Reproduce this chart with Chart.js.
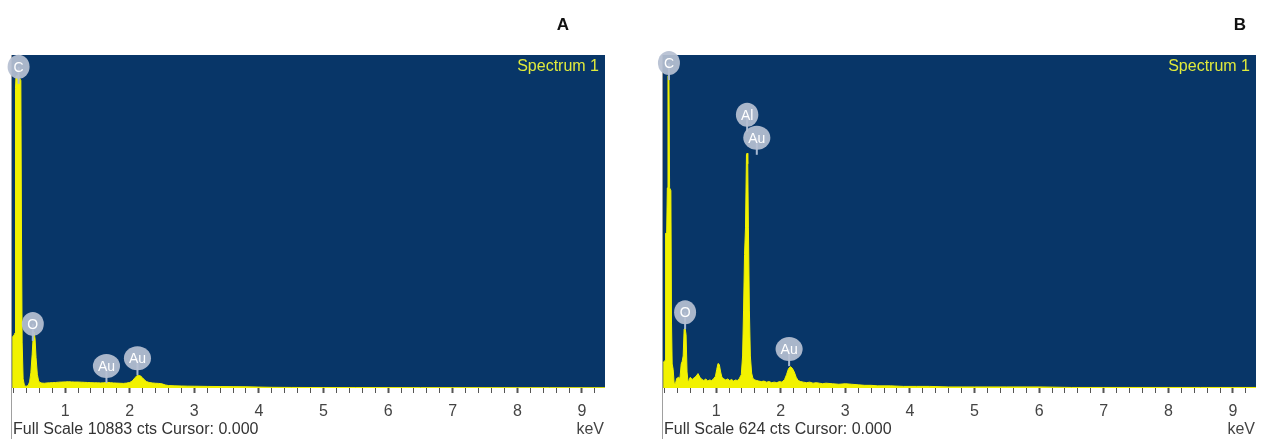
<!DOCTYPE html>
<html>
<head>
<meta charset="utf-8">
<script src="https://cdn.jsdelivr.net/npm/chart.js@4/dist/chart.umd.min.js"></script>
<style>
  html, body { margin: 0; padding: 0; background: #fff; }
  #wrap { display: flex; width: 1269px; height: 439px; }
  canvas { display: block; }
</style>
</head>
<body>
<div id="wrap">
  <canvas id="specA" width="651" height="439"></canvas>
  <canvas id="specB" width="618" height="439"></canvas>
</div>
<script>
// Spectrum A (counts per energy, keV)
const energyA = [0.18, 0.20, 0.215, 0.225, 0.232, 0.24, 0.27, 0.29, 0.315, 0.325, 0.335, 0.35, 0.37, 0.39, 0.41,
  0.43, 0.45, 0.47, 0.49, 0.505, 0.52, 0.535, 0.55, 0.57, 0.59, 0.61, 0.64, 0.68, 0.72, 0.76, 0.80, 0.85, 0.90,
  0.95, 1.00, 1.05, 1.10, 1.15, 1.20, 1.25, 1.30, 1.35, 1.40, 1.45, 1.50, 1.55, 1.60, 1.65, 1.70, 1.75, 1.80,
  1.85, 1.90, 1.95, 2.00, 2.04, 2.08, 2.11, 2.14, 2.17, 2.20, 2.23, 2.26, 2.30, 2.35, 2.40, 2.45, 2.50, 2.55,
  2.60, 2.70, 2.80, 2.90, 3.00, 3.20, 3.40, 3.60, 3.80, 4.00, 4.20, 4.50, 5.00, 5.50, 6.00, 6.50, 7.00, 7.50,
  8.00, 8.50, 9.00, 9.36];
const countsA = [1650, 1700, 1750, 1800, 9800, 10200, 10200, 10150, 10050, 5000, 1500, 300, 90, 60, 60,
  90, 200, 500, 1100, 1650, 1830, 1600, 1000, 450, 230, 180, 160, 155, 165, 170, 175, 180, 190,
  195, 200, 205, 200, 195, 195, 190, 185, 180, 175, 170, 170, 165, 170, 185, 175, 165, 160,
  155, 150, 160, 180, 230, 330, 400, 410, 390, 330, 260, 210, 180, 165, 155, 150, 135, 100,
  80, 70, 65, 60, 58, 52, 48, 44, 40, 30, 22, 18, 15, 14, 13, 12, 12, 11,
  10, 10, 9, 9];

// Spectrum B
const energyB = [0.18, 0.20, 0.212, 0.218, 0.235, 0.245, 0.255, 0.27, 0.28, 0.30, 0.31, 0.32, 0.335,
  0.35, 0.37, 0.39, 0.42, 0.44, 0.46, 0.475, 0.49, 0.505, 0.52, 0.535, 0.55, 0.565, 0.58, 0.60, 0.63, 0.66,
  0.69, 0.72, 0.75, 0.78, 0.81, 0.84, 0.87, 0.90, 0.93, 0.96, 0.99, 1.01, 1.03, 1.05, 1.07, 1.09, 1.12, 1.15,
  1.18, 1.21, 1.24, 1.27, 1.30, 1.33, 1.36, 1.39, 1.41, 1.425, 1.44, 1.455, 1.47, 1.48, 1.49, 1.50, 1.515,
  1.53, 1.55, 1.57, 1.60, 1.63, 1.66, 1.70, 1.74, 1.78, 1.82, 1.86, 1.90, 1.94, 1.98, 2.02, 2.06, 2.09, 2.12,
  2.15, 2.18, 2.21, 2.24, 2.27, 2.31, 2.35, 2.40, 2.45, 2.50, 2.55, 2.60, 2.65, 2.70, 2.80, 2.90, 3.00, 3.10,
  3.20, 3.30, 3.40, 3.50, 3.70, 3.90, 4.10, 4.30, 4.60, 5.00, 5.50, 6.00, 6.50, 7.00, 7.50, 8.00, 8.50, 9.00, 9.36];
const countsB = [48, 50, 52, 290, 292, 375, 585, 585, 375, 370, 120, 45, 35,
  10, 8, 18, 20, 18, 45, 50, 60, 110, 112, 100, 30, 12, 15, 20, 16, 19,
  22, 27, 20, 16, 14, 17, 13, 15, 14, 17, 22, 35, 46, 44, 30, 20, 17, 15,
  17, 14, 16, 13, 15, 14, 18, 25, 60, 146, 250, 300, 437, 440, 420, 300, 146,
  60, 28, 18, 15, 14, 13, 12, 13, 11, 12, 10, 11, 10, 12, 11, 16, 25, 36,
  40, 37, 30, 20, 14, 12, 11, 10, 11, 9, 10, 9, 8, 9, 8, 7, 8, 7,
  6, 5, 5, 4, 4, 3, 3, 3, 2, 2, 2, 2, 1, 1, 1, 1, 1, 1, 1];

// peak markers
const peakNamesA = ["C", "O", "Au", "Au"];
const peakKeVA = [0.28, 0.50, 1.64, 2.12];
const peakCtsA = [9940, 1540, 160, 420];
const peakNamesB = ["C", "O", "Al", "Au", "Au"];
const peakKeVB = [0.27, 0.52, 1.48, 1.63, 2.13];
const peakCtsB = [577, 110, 480, 437, 41];

const fullScaleA = 10883;
const fullScaleB = 624;
const majorTicks = [1, 2, 3, 4, 5, 6, 7, 8, 9];

const FONT = '"Liberation Sans", Arial, sans-serif';
const xMin = 0.178, xMax = 9.357;

const panelPlugin = {
  id: 'panel',
  beforeDatasetsDraw(chart) {
    const { ctx, chartArea: a } = chart;
    ctx.save();
    ctx.fillStyle = '#083668';
    ctx.fillRect(a.left, a.top, a.right - a.left, a.bottom - a.top);
    ctx.restore();
  },
  afterDraw(chart, args, o) {
    const { ctx, chartArea: a } = chart;
    const xs = chart.scales.x, ys = chart.scales.y;
    ctx.save();
    // left edge line
    ctx.strokeStyle = '#a0a0a0';
    ctx.lineWidth = 1;
    ctx.beginPath();
    ctx.moveTo(a.left - 0.5, a.top);
    ctx.lineTo(a.left - 0.5, chart.height);
    ctx.stroke();

    // peak markers
    o.names.forEach((n, i) => {
      const x = xs.getPixelForValue(o.keV[i]);
      const y = ys.getPixelForValue(o.cts[i]);
      const cy = y - 17;
      ctx.strokeStyle = '#a9bad2';
      ctx.lineWidth = 2;
      ctx.beginPath();
      ctx.moveTo(x, cy);
      ctx.lineTo(x, y);
      ctx.stroke();
      ctx.font = '14px ' + FONT;
      const w = ctx.measureText(n).width;
      ctx.fillStyle = 'rgba(182,192,210,0.93)';
      ctx.beginPath();
      ctx.ellipse(x, cy, Math.max(11, w / 2 + 5), 12, 0, 0, Math.PI * 2);
      ctx.fill();
      ctx.fillStyle = '#ffffff';
      ctx.textAlign = 'center';
      ctx.textBaseline = 'middle';
      ctx.fillText(n, x, cy + 1);
    });

    ctx.font = '16px ' + FONT;
    ctx.fillStyle = '#e0ea3c';
    ctx.textAlign = 'right';
    ctx.textBaseline = 'middle';
    ctx.fillText('Spectrum 1', a.right - 6, a.top + 12);

    ctx.fillStyle = '#333';
    ctx.textAlign = 'left';
    ctx.fillText('Full Scale ' + o.fullScale + ' cts Cursor: 0.000', a.left + 1, 430);
    ctx.fillStyle = '#444';
    ctx.textAlign = 'right';
    ctx.fillText('keV', a.right - 1, 430);

    ctx.fillStyle = '#111';
    ctx.font = 'bold 17px ' + FONT;
    ctx.textAlign = 'center';
    ctx.fillText(o.letter, o.letterX, 25);
    ctx.restore();
  }
};

function makeChart(id, energy, counts, fullScale, letter, letterX, names, keV, cts, rightPad) {
  return new Chart(document.getElementById(id), {
    type: 'line',
    data: {
      datasets: [{
        data: energy.map((e, i) => ({ x: e, y: counts[i] })),
        borderColor: '#f2f200',
        backgroundColor: '#f2f200',
        borderWidth: 1,
        pointRadius: 0,
        tension: 0,
        fill: 'origin'
      }]
    },
    options: {
      responsive: false,
      animation: false,
      layout: { padding: { left: 12, top: 55, right: rightPad, bottom: 0 } },
      plugins: {
        legend: { display: false },
        tooltip: { enabled: false },
        panel: { fullScale, letter, letterX, names, keV, cts }
      },
      scales: {
        x: {
          type: 'linear',
          min: xMin,
          max: xMax,
          afterBuildTicks: axis => {
            const t = [];
            for (let k = 1; k <= 46; k++) t.push({ value: k * 0.2 });
            axis.ticks = t;
          },
          afterFit: axis => { axis.height = 51; },
          ticks: {
            autoSkip: false,
            maxRotation: 0,
            padding: 9,
            color: '#444',
            font: { family: FONT, size: 16 },
            callback: v => {
              const r = Math.round(v);
              return (Math.abs(v - r) < 1e-6 && majorTicks.includes(r)) ? String(r) : '';
            }
          },
          grid: {
            drawOnChartArea: false,
            drawTicks: true,
            tickLength: 5,
            tickColor: '#555',
            tickWidth: c => {
              const v = c.tick ? c.tick.value : 0;
              return Math.abs(v - Math.round(v)) < 1e-6 ? 2 : 1;
            }
          },
          border: { display: false }
        },
        y: { display: false, min: 0, max: fullScale }
      }
    },
    plugins: [panelPlugin]
  });
}

makeChart('specA', energyA, countsA, fullScaleA, 'A', 563, peakNamesA, peakKeVA, peakCtsA, 651 - 605);
makeChart('specB', energyB, countsB, fullScaleB, 'B', 589, peakNamesB, peakKeVB, peakCtsB, 618 - 605);
</script>
</body>
</html>
